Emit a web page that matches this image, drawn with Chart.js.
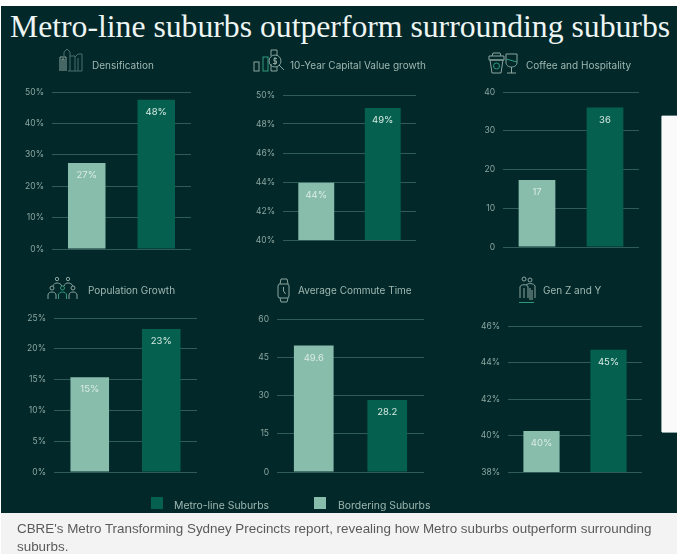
<!DOCTYPE html>
<html>
<head>
<meta charset="utf-8">
<title>Metro-line suburbs outperform surrounding suburbs</title>
<script src="https://cdn.jsdelivr.net/npm/chart.js@4"></script>
<style>
    html, body { margin: 0; padding: 0; background: #fff; overflow: hidden; }
    #page { position: relative; width: 681px; height: 554px; overflow: hidden; }
    #board { position: absolute; left: 1px; top: 6px; width: 676px; height: 507px; background: #02282a; }
    #panel { position: absolute; left: 662px; top: 116px; width: 15px; height: 316px; background: #fafafa; box-shadow: -1px 0 0 #8fa5a3, 0 1px 0 #8fa5a3, 0 -1px 0 #5f7c7b; }
    #headline { position: absolute; left: 10px; top: 9px; font: 31.7px "Liberation Serif", serif; color: #eef5f2; white-space: nowrap; }
    #caption { position: absolute; left: 1px; top: 513px; width: 676px; height: 41px; background: #f3f3f3; }
    #caption div { position: absolute; left: 16px; top: 7px; width: 650px; font: 13.4px/18px "Liberation Sans", Arial, sans-serif; color: #5a5a5a; }
    .heading, .legend-text { position: absolute; font: 10px Inter, sans-serif; color: #9fb8b0; white-space: nowrap; transform: translateY(-50%); }
    .legend-text { font-size: 10.4px; }
    .swatch { position: absolute; width: 12px; height: 12px; }
    canvas { position: absolute; }
    #icons { position: absolute; left: 0; top: 0; }
    #icons * { fill: none; stroke: #8ba69f; stroke-width: 1; }
    #icons .dim { stroke: #4b6f6c; }
    #icons .hi { stroke: #2f9a7c; }
</style>
</head>
<body>
<div id="page">
    <div id="board"></div>
    <div id="panel"></div>
    <div id="headline">Metro-line suburbs outperform surrounding suburbs</div>

    <svg id="icons" width="681" height="554">
        <!-- Densification -->
        <path d="M60 71V57H66V71M62 71V59H64V71"/>
        <path class="dim" d="M64 56V52L67 49L70 52V71M70 56H75V71H68M75 57L78 54H82V71H75M78 58V71"/>
        <!-- 10-Year Capital Value growth -->
        <rect x="254" y="62" width="5" height="9"/>
        <rect class="hi" x="263" y="57" width="5" height="14"/>
        <path d="M271 56V50H277V56M271 64V71H277V67"/>
        <circle cx="275" cy="61" r="6"/>
        <path d="M279 65L284 70"/>
        <path d="M277 58.5H274V61H276.5V63.5H273M275 57V65"/>
        <!-- Coffee and Hospitality -->
        <path d="M490 60H503L501 73H492ZM489 56H504V60H489ZM492 56L493 53H500L501 56"/>
        <circle class="hi" cx="496.5" cy="66" r="3"/>
        <path d="M506 54H517V62C517 66 514 67 511.5 67C509 67 506 66 506 62ZM511.5 67V73M507 73H516"/>
        <path class="hi" d="M506 59L517 62"/>
        <!-- Population Growth -->
        <circle cx="57" cy="279" r="1.7"/><circle cx="68" cy="279" r="1.7"/>
        <path d="M53 286C54 282 60 282 62 286M64 286C65 282 71 282 73 286"/>
        <circle cx="52" cy="288" r="2"/><circle class="hi" cx="62.5" cy="288" r="2"/><circle cx="73" cy="288" r="2"/>
        <path d="M48 299V295C48 291 56 291 56 295V299M69 299V295C69 291 77 291 77 295V299"/>
        <path class="hi" d="M58.5 299V295C58.5 291 66.5 291 66.5 295V299"/>
        <!-- Average Commute Time -->
        <rect x="278" y="284" width="11" height="14" rx="2"/>
        <path d="M280 284L281 279H287L288 284M280 298L281 302H287L288 298M283.5 287V291L285.5 294"/>
        <!-- Gen Z and Y -->
        <circle cx="524" cy="279" r="2"/><circle cx="530" cy="280" r="2"/>
        <path d="M520 298V287C520 284 528 284 528 287V298M526 285C528 283 534 283 535 286V298M524 288V298M530 288V300M532 290V300"/>
        <path class="hi" d="M519 302.500H534"/>
    </svg>

    <div class="swatch" style="left:151px;top:497px;background:#05604f"></div>
    <div class="legend-text" style="left:174px;top:505px">Metro-line Suburbs</div>
    <div class="swatch" style="left:314px;top:497px;background:#88bdac"></div>
    <div class="legend-text" style="left:338px;top:505px">Bordering Suburbs</div>

    <div id="caption"><div>CBRE's Metro Transforming Sydney Precincts report, revealing how Metro suburbs outperform surrounding suburbs.</div></div>
</div>

<script>
// Данные
const panelTitles = ['Densification', '10-Year Capital Value growth', 'Coffee and Hospitality', 'Population Growth', 'Average Commute Time', 'Gen Z and Y'];
const categories = ['Bordering Suburbs', 'Metro-line Suburbs'];
const borderingValues = [27.4, 43.95, 17.3, 15.4, 49.6, 40.25];
const metroValues = [47.5, 49.1, 36, 23.2, 28.2, 44.7];
const borderingLabels = ['27%', '44%', '17', '15%', '49.6', '40%'];
const metroLabels = ['48%', '49%', '36', '23%', '28.2', '45%'];
const axisMin = [0, 40, 0, 0, 0, 38];
const axisMax = [50, 50, 40, 25, 60, 46];
const axisStep = [10, 2, 10, 5, 15, 2];
const axisSuffix = ['%', '%', '', '%', '', '%'];

// Расположение панелей: left, right, top, bottom области графика
const plotBoxes = [
    [52, 191, 92, 249],
    [283, 416, 94.5, 240],
    [503, 639, 92, 247],
    [54, 197, 318, 472],
    [277, 424, 319, 472],
    [508, 642, 326, 472]
];
const headingPos = [[92, 65], [290, 65], [526, 65], [88, 290], [298, 290], [543, 290]];

const AXIS_WIDTH = 40;
const PAD = 8;

// Подписи значений внутри столбцов
const barLabels = {
    id: 'barLabels',
    afterDatasetsDraw(chart, args, opts) {
        const ctx = chart.ctx;
        const bars = chart.getDatasetMeta(0).data;
        ctx.save();
        ctx.font = '9.5px Inter, sans-serif';
        ctx.fillStyle = '#d9ebe4';
        ctx.textAlign = 'center';
        ctx.textBaseline = 'middle';
        bars.forEach((bar, i) => {
            ctx.fillText(opts.texts[i], bar.x, bar.y + 12.5);
        });
        ctx.restore();
    }
};

function makePanel(i) {
    const box = plotBoxes[i];
    const canvas = document.createElement('canvas');
    canvas.width = box[1] - box[0] + AXIS_WIDTH;
    canvas.height = box[3] - box[2] + PAD * 2;
    canvas.style.left = (box[0] - AXIS_WIDTH) + 'px';
    canvas.style.top = (box[2] - PAD) + 'px';
    document.getElementById('page').insertBefore(canvas, document.getElementById('icons'));

    const heading = document.createElement('div');
    heading.className = 'heading';
    heading.textContent = panelTitles[i];
    heading.style.left = headingPos[i][0] + 'px';
    heading.style.top = headingPos[i][1] + 'px';
    document.getElementById('page').appendChild(heading);

    new Chart(canvas.getContext('2d'), {
        type: 'bar',
        data: {
            labels: categories,
            datasets: [{
                data: [borderingValues[i], metroValues[i]],
                backgroundColor: ['#88bdac', '#05604f'],
                borderWidth: 0,
                barPercentage: 0.9,
                categoryPercentage: 0.6
            }]
        },
        plugins: [barLabels],
        options: {
            responsive: false,
            animation: false,
            layout: { padding: { top: PAD, bottom: PAD, left: 0, right: 0 } },
            plugins: {
                legend: { display: false },
                tooltip: { enabled: false },
                barLabels: { texts: [borderingLabels[i], metroLabels[i]] }
            },
            scales: {
                x: { display: false },
                y: {
                    min: axisMin[i],
                    max: axisMax[i],
                    afterFit(scale) {
                        scale.width = AXIS_WIDTH;
                        scale.paddingTop = 0;
                        scale.paddingBottom = 0;
                    },
                    border: { display: false },
                    grid: { color: '#2f5c57', lineWidth: 1, drawTicks: false },
                    ticks: {
                        stepSize: axisStep[i],
                        padding: 8,
                        color: '#8ba69f',
                        font: { family: 'Inter, sans-serif', size: 8.5 },
                        callback: value => value + axisSuffix[i]
                    }
                }
            }
        }
    });
}

panelTitles.forEach((title, i) => makePanel(i));
</script>
</body>
</html>
